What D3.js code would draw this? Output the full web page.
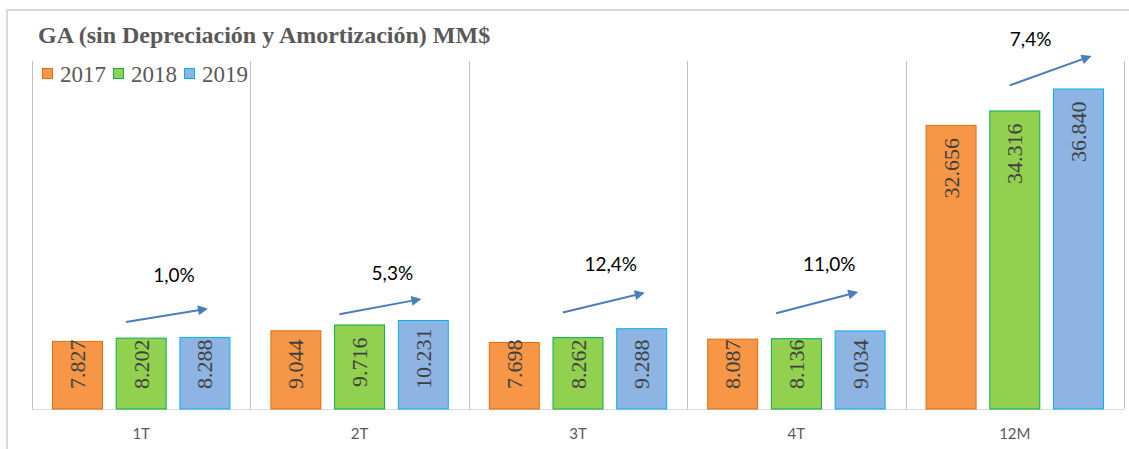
<!DOCTYPE html>
<html>
<head>
<meta charset="utf-8">
<script src="https://cdn.jsdelivr.net/npm/d3@7"></script>
<style>
  body { margin: 0; background: #fff; }
</style>
</head>
<body>
<div id="figure"></div>
<script>
const width = 1129,
      height = 449;

// Data.
const categories = ["1T", "2T", "3T", "4T", "12M"];
const years = ["2017", "2018", "2019"];
const values2017 = [7.827, 9.044, 7.698, 8.087, 32.656];
const values2018 = [8.202, 9.716, 8.262, 8.136, 34.316];
const values2019 = [8.288, 10.231, 9.288, 9.034, 36.840];
const growthLabels = ["1,0%", "5,3%", "12,4%", "11,0%", "7,4%"];
// Hand-drawn growth arrows, in value units (start and tip).
const arrowFrom = [10.0, 10.9, 11.1, 11.0, 37.2];
const arrowTo = [11.5, 12.6, 13.3, 13.4, 40.5];
const growthLabelAt = [14.6, 14.8, 15.9, 15.9, 41.7];

const series = [values2017, values2018, values2019];
const fills = ["#F79646", "#92D050", "#8EB4E3"];
const strokes = ["#E46C0A", "#00B050", "#00B0F0"];

const serif = "Liberation Serif, Times New Roman, serif";
const sans = "Lato, Open Sans, sans-serif";

const svg = d3.select("#figure").append("svg")
    .attr("width", width)
    .attr("height", height);

// Outer chart frame.
svg.append("rect")
    .attr("x", 7).attr("y", 10)
    .attr("width", width + 20).attr("height", height + 20)
    .attr("fill", "none")
    .attr("stroke", "#d9d9d9")
    .attr("stroke-width", 2);

const x0 = d3.scaleBand()
    .domain(categories)
    .range([32, 1124]);

const x1 = d3.scaleBand()
    .domain(years)
    .range([20, x0.bandwidth() - 20])
    .paddingInner(0.2);

const y = d3.scaleLinear()
    .domain([0, 40])
    .range([409, 61]);

// Vertical category separators.
svg.append("g")
    .attr("stroke", "#bfbfbf")
    .selectAll("line")
    .data(categories.concat(["end"]))
    .join("line")
        .attr("x1", (d, i) => Math.round(32 + i * x0.step()) + 0.5)
        .attr("x2", (d, i) => Math.round(32 + i * x0.step()) + 0.5)
        .attr("y1", y(40))
        .attr("y2", y(0));

// Baseline.
svg.append("line")
    .attr("x1", 32).attr("x2", 1124)
    .attr("y1", y(0) + 0.5).attr("y2", y(0) + 0.5)
    .attr("stroke", "#d9d9d9");

// Category axis labels.
svg.append("g")
    .attr("transform", `translate(0,${y(0)})`)
    .call(d3.axisBottom(x0).tickSize(0).tickPadding(19))
    .call(g => g.select(".domain").remove())
    .call(g => g.selectAll("text")
        .attr("fill", "#595959")
        .attr("font-family", sans)
        .attr("font-size", 15));

// Bars and value labels.
const groups = svg.append("g")
    .selectAll("g")
    .data(categories)
    .join("g")
        .attr("transform", d => `translate(${x0(d)},0)`);

const cells = groups.selectAll("g")
    .data((c, ci) => years.map((yr, si) => ({yr, si, v: series[si][ci]})))
    .join("g");

cells.append("rect")
    .attr("x", d => x1(d.yr) + 0.5)
    .attr("y", d => y(d.v) + 0.5)
    .attr("width", x1.bandwidth() - 1)
    .attr("height", d => y(0) - y(d.v) - 0.5)
    .attr("fill", d => fills[d.si])
    .attr("stroke", d => strokes[d.si]);

cells.append("text")
    .style("font-family", serif)
    .style("font-size", "22px")
    .attr("fill", "#404040")
    .attr("dominant-baseline", "central")
    .text(d => d3.format(".3f")(d.v))
    .each(function(d) {
        const len = this.getComputedTextLength();
        const bottom = Math.min(y(0) - 20, y(d.v) + 13 + len);
        d3.select(this)
            .attr("transform", `translate(${x1(d.yr) + x1.bandwidth() / 2},${bottom}) rotate(-90)`);
    });

// Growth arrows and labels.
const blue = "#4A7EBB";
svg.append("defs").append("marker")
    .attr("id", "head")
    .attr("viewBox", "0 0 10 10")
    .attr("refX", 8).attr("refY", 5)
    .attr("markerWidth", 6).attr("markerHeight", 5)
    .attr("orient", "auto")
    .append("path")
    .attr("d", "M0,0L10,5L0,10z")
    .attr("fill", blue);

const ann = svg.append("g");
categories.forEach((c, i) => {
    const bx = x0(c);
    const off = i === 4 ? 104 : (i % 2 ? 89 : 94);
    ann.append("line")
        .attr("x1", bx + off)
        .attr("y1", y(arrowFrom[i]))
        .attr("x2", bx + off + 80)
        .attr("y2", y(arrowTo[i]))
        .attr("stroke", blue)
        .attr("stroke-width", 2)
        .attr("marker-end", "url(#head)");
    ann.append("text")
        .attr("x", bx + (i === 4 ? 125 : 142))
        .attr("y", y(growthLabelAt[i]))
        .attr("text-anchor", "middle")
        .attr("font-family", sans)
        .attr("font-size", 19)
        .attr("fill", "#000")
        .text(growthLabels[i]);
});

// Title.
svg.append("text")
    .attr("x", 38).attr("y", 43)
    .style("font-family", serif)
    .attr("font-weight", "bold")
    .style("font-size", "24px")
    .attr("fill", "#595959")
    .text("GA (sin Depreciación y Amortización) MM$");

// Legend.
const legend = svg.append("g")
    .selectAll("g")
    .data(years)
    .join("g")
        .attr("transform", (d, i) => `translate(${42 + i * 71},68)`);

legend.append("rect")
    .attr("x", 0.5).attr("y", 0.5)
    .attr("width", 10).attr("height", 10)
    .attr("fill", (d, i) => fills[i])
    .attr("stroke", (d, i) => strokes[i]);

legend.append("text")
    .attr("x", 18).attr("y", 14)
    .style("font-family", serif)
    .style("font-size", "23px")
    .attr("fill", "#595959")
    .text(d => d);
</script>
</body>
</html>
